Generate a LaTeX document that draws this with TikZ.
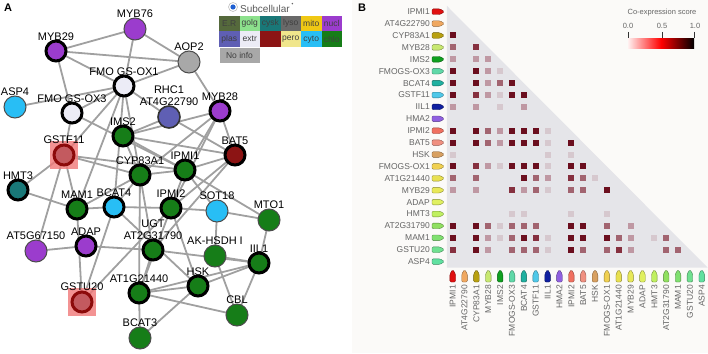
\documentclass[tikz,border=0pt]{standalone}
\usepackage{fontspec}
\setmainfont{Liberation Sans}
\usepackage{tkz-graph}
\usetikzlibrary{backgrounds}

% subcellular colours
\definecolor{ER}{RGB}{85,105,60}
\definecolor{golgi}{RGB}{140,225,140}
\definecolor{cysk}{RGB}{25,120,120}
\definecolor{lyso}{RGB}{105,105,105}
\definecolor{mito}{RGB}{240,200,20}
\definecolor{nucl}{RGB}{155,60,205}
\definecolor{plas}{RGB}{95,95,180}
\definecolor{extr}{RGB}{236,236,246}
\definecolor{vacu}{RGB}{140,20,20}
\definecolor{pero}{RGB}{240,230,140}
\definecolor{cyto}{RGB}{40,190,245}
\definecolor{chlo}{RGB}{22,125,24}
\definecolor{noinfo}{RGB}{168,168,168}
\definecolor{gstfill}{RGB}{195,90,95}
\definecolor{gstline}{RGB}{140,10,10}
\definecolor{halopink}{RGB}{240,120,120}
\definecolor{edgegray}{RGB}{160,160,160}
\definecolor{labtext}{RGB}{55,55,55}
\definecolor{radioblue}{RGB}{30,95,210}
\definecolor{panelB}{RGB}{251,250,248}
\definecolor{tri}{RGB}{229,229,233}
% co-expression levels
\definecolor{lv4}{RGB}{107,14,30}
\definecolor{lv3}{RGB}{134,48,63}
\definecolor{lv2}{RGB}{162,100,112}
\definecolor{lv1}{RGB}{191,152,163}
\definecolor{lv0}{RGB}{214,200,206}
% gene tags
\definecolor{tg1}{RGB}{224,16,16}
\definecolor{tg2}{RGB}{240,168,96}
\definecolor{tg3}{RGB}{184,160,16}
\definecolor{tg4}{RGB}{200,232,112}
\definecolor{tg5}{RGB}{16,160,32}
\definecolor{tg6}{RGB}{96,216,168}
\definecolor{tg7}{RGB}{32,176,160}
\definecolor{tg8}{RGB}{80,200,232}
\definecolor{tg9}{RGB}{16,32,160}
\definecolor{tg10}{RGB}{144,96,224}
\definecolor{tg11}{RGB}{240,112,96}
\definecolor{tg12}{RGB}{240,144,128}
\definecolor{tg13}{RGB}{216,160,96}
\definecolor{tg14}{RGB}{240,208,80}
\definecolor{tg15}{RGB}{232,224,80}
\definecolor{tg16}{RGB}{232,232,88}
\definecolor{tg17}{RGB}{224,240,96}
\definecolor{tg18}{RGB}{192,240,96}
\definecolor{tg19}{RGB}{144,224,96}
\definecolor{tg20}{RGB}{128,224,112}
\definecolor{tg21}{RGB}{112,224,144}
\definecolor{tg22}{RGB}{96,224,160}

\def\genelist{IPMI1,AT4G22790,CYP83A1,MYB28,IMS2,FMOGS-OX3,BCAT4,GSTF11,IIL1,HMA2,IPMI2,BAT5,HSK,FMOGS-OX1,AT1G21440,MYB29,ADAP,HMT3,AT2G31790,MAM1,GSTU20,ASP4}

\begin{document}
\begin{tikzpicture}[x=1pt,y=-1pt,
  every label/.style={text=labtext,inner sep=0.5pt,align=center,font=\fontsize{11}{12}\selectfont},
  boldv/.style={shape=circle,minimum size=20pt,inner sep=0pt,draw=black,line width=3pt},
  thinv/.style={shape=circle,minimum size=22pt,inner sep=0pt,draw=black!70,line width=1pt},
  gstv/.style={shape=circle,minimum size=20pt,inner sep=0pt,draw=gstline,line width=3pt,fill=gstfill},
  halo/.style={rectangle,minimum size=28pt,inner sep=0pt,fill=halopink,fill opacity=.8},
  lcell/.style={rectangle,minimum width=20.5pt,minimum height=15.5pt,inner sep=0pt,text=black!75,font=\fontsize{8.5}{9}\selectfont},
  rowlab/.style={anchor=east,inner sep=0pt,text=black!60,font=\fontsize{8.5}{9}\selectfont},
  collab/.style={rotate=90,anchor=east,inner sep=0pt,text=black!60,font=\fontsize{8.5}{9}\selectfont},
  taglook/.style={line width=.4pt,rounded corners=1.2pt},
  barlab/.style={inner sep=0pt,text=black!60,font=\fontsize{7.5}{8}\selectfont},
  panel/.style={inner sep=0pt,font=\fontsize{11}{11}\selectfont\bfseries}]
\useasboundingbox (0,0) rectangle (708,353);
\fill[panelB] (352,0) rectangle (708,353);

\node[panel] (pA) at (8,8) {A};
\node[panel] (pB) at (362,8) {B};

% network
\SetVertexNormal[Shape=circle, LineWidth=3pt]
\SetUpEdge[lw=1.8pt, color=edgegray]
\GraphInit[vstyle=Normal]
\tikzset{EdgeStyle/.style={draw=edgegray,line width=1.8pt}}
\tikzset{VertexStyle/.style={thinv,fill=nucl}}
\Vertex[x=135,y=29,L={MYB76},LabelOut,Lpos=90,Ldist=0pt]{MYB76}
\tikzset{VertexStyle/.style={boldv,fill=nucl}}
\Vertex[x=56,y=51,L={MYB29},LabelOut,Lpos=90,Ldist=0pt]{MYB29}
\tikzset{VertexStyle/.style={thinv,fill=noinfo}}
\Vertex[x=189,y=62,L={AOP2},LabelOut,Lpos=90,Ldist=0pt]{AOP2}
\tikzset{VertexStyle/.style={boldv,fill=extr}}
\Vertex[x=124,y=86,L={FMO GS-OX1},LabelOut,Lpos=90,Ldist=0pt]{FMO1}
\tikzset{VertexStyle/.style={thinv,fill=cyto}}
\Vertex[x=15,y=107,L={ASP4},LabelOut,Lpos=90,Ldist=0pt]{ASP4}
\tikzset{VertexStyle/.style={boldv,fill=extr}}
\Vertex[x=72,y=113,L={FMO GS-OX3},LabelOut,Lpos=90,Ldist=0pt]{FMO3}
\tikzset{VertexStyle/.style={thinv,line width=1.6pt,draw=black!80,fill=plas}}
\Vertex[x=169,y=117,L={RHC1\\AT4G22790},LabelOut,Lpos=90,Ldist=0pt]{RHC1}
\tikzset{VertexStyle/.style={boldv,fill=nucl}}
\Vertex[x=220,y=111,L={MYB28},LabelOut,Lpos=90,Ldist=0pt]{MYB28}
\tikzset{VertexStyle/.style={boldv,fill=chlo}}
\Vertex[x=123,y=136,L={IMS2},LabelOut,Lpos=90,Ldist=0pt]{IMS2}
\tikzset{VertexStyle/.style={gstv}}
\Vertex[x=64,y=155,L={GSTF11},LabelOut,Lpos=90,Ldist=1pt]{GSTF11}
\tikzset{VertexStyle/.style={boldv,fill=vacu}}
\Vertex[x=235,y=155,L={BAT5},LabelOut,Lpos=90,Ldist=0pt]{BAT5}
\tikzset{VertexStyle/.style={boldv,fill=chlo}}
\Vertex[x=140,y=175,L={CYP83A1},LabelOut,Lpos=90,Ldist=0pt]{CYP83A1}
\Vertex[x=185,y=170,L={IPMI1},LabelOut,Lpos=90,Ldist=0pt]{IPMI1}
\tikzset{VertexStyle/.style={boldv,fill=cysk}}
\Vertex[x=18,y=190,L={HMT3},LabelOut,Lpos=90,Ldist=0pt]{HMT3}
\tikzset{VertexStyle/.style={boldv,fill=chlo}}
\Vertex[x=77,y=209,L={MAM1},LabelOut,Lpos=90,Ldist=0pt]{MAM1}
\tikzset{VertexStyle/.style={boldv,fill=cyto}}
\Vertex[x=114,y=207,L={BCAT4},LabelOut,Lpos=90,Ldist=0pt]{BCAT4}
\tikzset{VertexStyle/.style={boldv,fill=chlo}}
\Vertex[x=171,y=208,L={IPMI2},LabelOut,Lpos=90,Ldist=0pt]{IPMI2}
\tikzset{VertexStyle/.style={thinv,fill=cyto}}
\Vertex[x=217,y=211,L={SOT18},LabelOut,Lpos=90,Ldist=0pt]{SOT18}
\tikzset{VertexStyle/.style={thinv,fill=chlo}}
\Vertex[x=269,y=220,L={MTO1},LabelOut,Lpos=90,Ldist=0pt]{MTO1}
\tikzset{VertexStyle/.style={boldv,fill=chlo}}
\Vertex[x=153,y=250,L={UGT\\AT2G31790},LabelOut,Lpos=90,Ldist=0pt]{UGT}
\tikzset{VertexStyle/.style={thinv,fill=nucl}}
\Vertex[x=36,y=251,L={AT5G67150},LabelOut,Lpos=90,Ldist=0pt]{AT5G67150}
\tikzset{VertexStyle/.style={boldv,fill=nucl}}
\Vertex[x=86,y=246,L={ADAP},LabelOut,Lpos=90,Ldist=0pt]{ADAP}
\tikzset{VertexStyle/.style={thinv,fill=chlo}}
\Vertex[x=215,y=256,L={AK-HSDH I},LabelOut,Lpos=90,Ldist=0pt]{AKHSDH}
\tikzset{VertexStyle/.style={boldv,fill=chlo}}
\Vertex[x=259,y=263,L={IIL1},LabelOut,Lpos=90,Ldist=0pt]{IIL1}
\tikzset{VertexStyle/.style={gstv}}
\Vertex[x=82,y=302,L={GSTU20},LabelOut,Lpos=90,Ldist=1pt]{GSTU20}
\tikzset{VertexStyle/.style={boldv,fill=chlo}}
\Vertex[x=139,y=293,L={AT1G21440},LabelOut,Lpos=90,Ldist=0pt]{AT1G21440}
\Vertex[x=198,y=286,L={HSK},LabelOut,Lpos=90,Ldist=0pt]{HSK}
\tikzset{VertexStyle/.style={thinv,fill=chlo}}
\Vertex[x=237,y=315,L={CBL},LabelOut,Lpos=90,Ldist=0pt]{CBL}
\Vertex[x=140,y=338,L={BCAT3},LabelOut,Lpos=90,Ldist=0pt]{BCAT3}

\begin{pgfonlayer}{background}
\Edge(MYB76)(MYB29)
\Edge(MYB76)(FMO1)
\Edge(MYB76)(AOP2)
\Edge(MYB29)(AOP2)
\Edge(MYB29)(FMO1)
\Edge(MYB29)(FMO3)
\Edge(FMO1)(AOP2)
\Edge(FMO1)(RHC1)
\Edge(ASP4)(FMO1)
\Edge(FMO3)(FMO1)
\Edge(AOP2)(MYB28)
\Edge(MYB28)(BAT5)
\Edge(MYB28)(IPMI1)
\Edge(MYB28)(CYP83A1)
\Edge(MYB28)(IMS2)
\Edge(MYB28)(IPMI2)
\Edge(FMO1)(GSTF11)
\Edge(FMO1)(MAM1)
\Edge(FMO1)(BCAT4)
\Edge(FMO1)(CYP83A1)
\Edge(FMO3)(IPMI1)
\Edge(FMO3)(GSTF11)
\Edge(GSTF11)(IPMI1)
\Edge(GSTF11)(CYP83A1)
\Edge(GSTF11)(HMT3)
\Edge(GSTF11)(MAM1)
\Edge(GSTF11)(AT5G67150)
\Edge(AT5G67150)(ADAP)
\Edge(ADAP)(UGT)
\Edge(HMT3)(MAM1)
\Edge(MAM1)(BCAT4)
\Edge(BCAT4)(IPMI2)
\Edge(BCAT4)(GSTU20)
\Edge(MAM1)(GSTU20)
\Edge(GSTU20)(IPMI2)
\Edge(MAM1)(CYP83A1)
\Edge(BCAT4)(CYP83A1)
\Edge(CYP83A1)(IPMI1)
\Edge(CYP83A1)(IMS2)
\Edge(IMS2)(IPMI1)
\Edge(IMS2)(BAT5)
\Edge(IPMI1)(BAT5)
\Edge(IPMI1)(IPMI2)
\Edge(IPMI1)(SOT18)
\Edge(CYP83A1)(UGT)
\Edge(CYP83A1)(AT1G21440)
\Edge(IPMI2)(AT1G21440)
\Edge(IPMI2)(BAT5)
\Edge(BAT5)(UGT)
\Edge(RHC1)(BAT5)
\Edge(RHC1)(IMS2)
\Edge(SOT18)(MTO1)
\Edge(SOT18)(AKHSDH)
\Edge(SOT18)(IPMI2)
\Edge(MTO1)(IIL1)
\Edge(MTO1)(IPMI1)
\Edge(AKHSDH)(IIL1)
\Edge(AKHSDH)(CBL)
\Edge(IIL1)(CBL)
\Edge(IIL1)(HSK)
\Edge(IIL1)(AT1G21440)
\Edge(IIL1)(UGT)
\Edge(HSK)(AT1G21440)
\Edge(AT1G21440)(BCAT3)
\Edge(AT1G21440)(UGT)
\Edge(HSK)(IPMI2)
\Edge(HSK)(BCAT4)
\Edge(BCAT3)(HSK)
\Edge(CBL)(AT1G21440)
\node[halo] (GSTF11h) at (GSTF11) {};
\node[halo] (GSTU20h) at (GSTU20) {};
\end{pgfonlayer}

% subcellular legend
\node[circle,draw=black!25,fill=white,line width=.6pt,minimum size=9pt,inner sep=0pt] (radio) at (233,7) {};
\fill[radioblue] (radio) circle (2.6);
\node[anchor=west,inner sep=0pt,text=black!65,font=\fontsize{10}{10}\selectfont] (subc) at (240,8.5) {Subcellular};
\fill[black!60] ([shift={(2.5,-1)}]subc.north east) circle (.8);
\foreach \t/\c [count=\k from 0] in {E.R/ER,golg/golgi,cysk/cysk,lyso/lyso,mito/mito,nucl/nucl,plas/plas,extr/extr,/vacu,pero/pero,cyto/cyto,chlo/chlo}{
  \pgfmathtruncatemacro\cc{mod(\k,6)}
  \pgfmathtruncatemacro\rr{\k/6}
  \node[lcell,fill=\c] (lg\k) at ({229.25+20.5*\cc},{23.75+15.5*\rr}) {\t};
}
\node[lcell,fill=noinfo,minimum width=40pt,minimum height=14.5pt] (lgnone) at (239.5,55.5) {No info};

% co-expression matrix
\fill[tri] (446.8,5.8) -- (446.8,267.6) -- (707.6,267.6) -- cycle;
\foreach \r/\c/\l in {3/1/4,
  4/1/2,4/3/3,
  5/1/1,5/3/1,5/4/1,
  6/1/4,6/3/4,6/4/1,6/5/0,
  7/1/4,7/3/4,7/4/1,7/5/2,7/6/4,
  8/1/4,8/3/3,8/4/1,8/5/0,8/6/4,8/7/4,
  9/1/1,9/3/1,9/5/0,9/7/1,
  11/1/4,11/3/4,11/4/2,11/5/1,11/6/4,11/7/4,11/8/4,11/9/0,
  12/1/4,12/3/4,12/4/2,12/5/1,12/6/4,12/7/4,12/8/4,12/9/0,12/11/4,
  13/1/0,13/9/0,13/11/0,
  14/1/4,14/3/3,14/4/1,14/5/0,14/6/4,14/7/4,14/8/4,14/9/0,14/11/4,14/12/4,
  15/1/2,15/3/2,15/7/4,15/8/2,15/9/1,15/11/3,15/12/2,15/13/0,
  16/1/1,16/3/1,16/6/3,16/7/1,16/8/2,16/9/0,16/11/2,16/12/2,16/14/4,
  18/6/0,18/7/0,18/11/0,18/14/0,
  19/1/4,19/3/4,19/4/2,19/5/0,19/6/2,19/7/2,19/8/2,19/11/4,19/12/4,19/14/2,19/16/1,
  20/1/4,20/3/4,20/4/1,20/5/0,20/6/2,20/7/4,20/8/3,20/9/0,20/11/4,20/12/4,20/14/4,20/15/2,20/16/1,20/18/0,20/19/2,
  21/1/3,21/3/4,21/4/1,21/6/2,21/7/2,21/8/2,21/9/0,21/11/4,21/12/2,21/14/2,21/15/3,21/16/1,21/19/2,21/20/2}{
  \fill[lv\l] ({452.7+(\c-1)*11.86-3},{11.7+(\r-1)*11.9-3}) rectangle ++(6,6);
}
\foreach \g [count=\i] in \genelist {
  \pgfmathsetmacro\yy{11.7+(\i-1)*11.9}
  \node[rowlab] (rl\i) at (430,\yy) {\g};
  \filldraw[taglook,fill=tg\i,draw=tg\i!60!black] (432,{\yy-2.8}) -- (440,{\yy-2.8}) -- (444.5,\yy) -- (440,{\yy+2.8}) -- (432,{\yy+2.8}) -- cycle;
}
\foreach \g [count=\j] in \genelist {
  \pgfmathsetmacro\xx{452.7+(\j-1)*11.86}
  \filldraw[taglook,fill=tg\j,draw=tg\j!60!black] ({\xx-2.8},282) -- ({\xx-2.8},274) -- (\xx,269.5) -- ({\xx+2.8},274) -- ({\xx+2.8},282) -- cycle;
  \node[collab] (cl\j) at (\xx,285) {\g};
}

% colour scale
\node[barlab] (bart) at (662,13) {Co-expression score};
\node[barlab] (b0) at (628,26) {0.0};
\node[barlab] (b5) at (662,26) {0.5};
\node[barlab] (b10) at (695,26) {1.0};
\shade[left color=red!6,right color=red] (628,39) rectangle (661,49);
\shade[left color=red,right color=black] (661,39) rectangle (694,49);
\draw[black!80,line width=.8pt] (b0.south) ++(0,3) -- ++(0,6);
\draw[black!80,line width=.8pt] (b5.south) ++(0,3) -- ++(0,6);
\draw[black!80,line width=.8pt] (b10.south) ++(-1,3) -- ++(0,6);
\end{tikzpicture}
\end{document}
